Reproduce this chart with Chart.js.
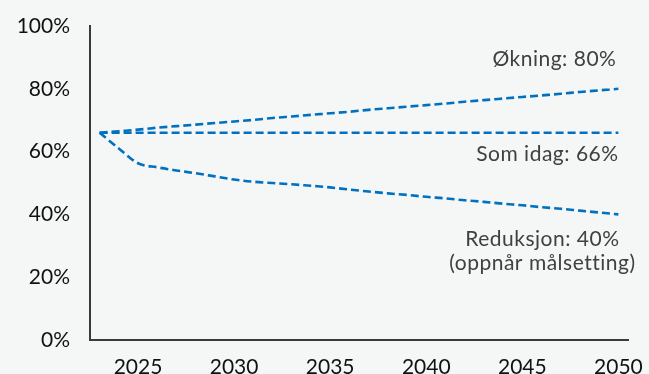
<!DOCTYPE html>
<html>
<head>
<meta charset="utf-8">
<script src="https://cdn.jsdelivr.net/npm/chart.js@4/dist/chart.umd.min.js"></script>
<style>
  html, body { margin: 0; padding: 0; background: #f5f7f7; }
  #wrap { width: 649px; height: 374px; position: relative; }
</style>
</head>
<body>
<div id="wrap"><canvas id="chart" width="649" height="374"></canvas></div>
<script>
// Years on the category axis
const years = [2023, 2024, 2025, 2026, 2027, 2028, 2029, 2030, 2031, 2032, 2033, 2034, 2035, 2036,
               2037, 2038, 2039, 2040, 2041, 2042, 2043, 2044, 2045, 2046, 2047, 2048, 2049, 2050];

// Scenario shares (%)
const okning = [66.0, 66.5, 67.0, 67.6, 68.1, 68.6, 69.1, 69.6, 70.1, 70.7, 71.2, 71.7, 72.2, 72.7,
                73.3, 73.8, 74.3, 74.8, 75.3, 75.9, 76.4, 76.9, 77.4, 77.9, 78.4, 79.0, 79.5, 80.0];
const somIdag = [66, 66, 66, 66, 66, 66, 66, 66, 66, 66, 66, 66, 66, 66,
                 66, 66, 66, 66, 66, 66, 66, 66, 66, 66, 66, 66, 66, 66];
const reduksjon = [66.0, 61.0, 56.3, 55.0, 54.0, 53.1, 52.1, 51.1, 50.4, 50.0, 49.6, 49.1, 48.6, 47.9,
                   47.3, 46.7, 46.2, 45.6, 45.1, 44.5, 44.0, 43.4, 42.9, 42.3, 41.8, 41.2, 40.6, 40.0];

// Tick labels
const yTicks = [0, 20, 40, 60, 80, 100];
const xTickYears = [2025, 2030, 2035, 2040, 2045, 2050];

const FONT = 'Lato, "Open Sans", sans-serif';
const BLUE = '#0070c0';

// End-of-line captions, placed relative to each series' last point
const captionPlugin = {
  id: 'captions',
  afterDatasetsDraw(chart, args, opts) {
    const { ctx, scales } = chart;
    ctx.save();
    ctx.font = '21px ' + FONT;
    ctx.letterSpacing = '0.5px';
    ctx.fillStyle = '#404040';
    ctx.textAlign = 'center';
    ctx.textBaseline = 'middle';
    opts.items.forEach(item => {
      const data = chart.data.datasets[item.dataset].data;
      const last = data.length - 1;
      const x = scales.x.getPixelForValue(last) + item.dx;
      const y = scales.y.getPixelForValue(data[last]) + item.dy;
      item.lines(data[last]).forEach((line, i) => {
        ctx.fillText(line, x, y + i * item.lineHeight);
      });
    });
    ctx.restore();
  }
};

const dashed = (label, data) => ({
  label, data,
  borderColor: BLUE,
  borderWidth: 2.6,
  borderDash: [8, 4],
  pointRadius: 0,
  fill: false,
  cubicInterpolationMode: 'monotone'
});

// Keep the plot area fixed by the layout padding alone
const noScalePadding = scale => {
  scale.paddingTop = 0;
  scale.paddingBottom = 0;
  scale.paddingLeft = 0;
  scale.paddingRight = 0;
};

new Chart(document.getElementById('chart'), {
  type: 'line',
  data: {
    labels: years,
    datasets: [
      dashed('Økning', okning),
      dashed('Som idag', somIdag),
      dashed('Reduksjon', reduksjon)
    ]
  },
  options: {
    responsive: false,
    animation: false,
    layout: { padding: { top: 26, right: 21, left: 0, bottom: 0 } },
    plugins: {
      legend: { display: false },
      tooltip: { enabled: false },
      captions: {
        items: [
          { dataset: 0, dx: -64, dy: -30, lineHeight: 24, lines: v => ['Økning: ' + v + '%'] },
          { dataset: 1, dx: -71, dy: 21, lineHeight: 24, lines: v => ['Som idag: ' + v + '%'] },
          { dataset: 2, dx: -76, dy: 25, lineHeight: 24, lines: v => ['Reduksjon: ' + v + '%', '(oppnår målsetting)'] }
        ]
      }
    },
    scales: {
      x: {
        type: 'category',
        offset: true,
        grid: { display: false, drawTicks: false },
        border: { display: true, color: '#3a3a3a', width: 2 },
        ticks: {
          autoSkip: false,
          maxRotation: 0,
          minRotation: 0,
          padding: 15,
          color: '#111',
          font: { family: FONT, size: 21 },
          callback: function (value) {
            const yr = this.getLabelForValue(value);
            return xTickYears.includes(yr) ? String(yr) : '';
          }
        },
        afterFit(scale) { scale.height = 34; noScalePadding(scale); }
      },
      y: {
        min: 0,
        max: 100,
        afterBuildTicks(scale) { scale.ticks = yTicks.map(v => ({ value: v })); },
        grid: { display: false, drawTicks: false },
        border: { display: true, color: '#3a3a3a', width: 2 },
        ticks: {
          padding: 20,
          color: '#111',
          font: { family: FONT, size: 21 },
          callback: v => v + '%'
        },
        afterFit(scale) { scale.width = 90; noScalePadding(scale); }
      }
    }
  },
  plugins: [captionPlugin]
});
</script>
</body>
</html>
